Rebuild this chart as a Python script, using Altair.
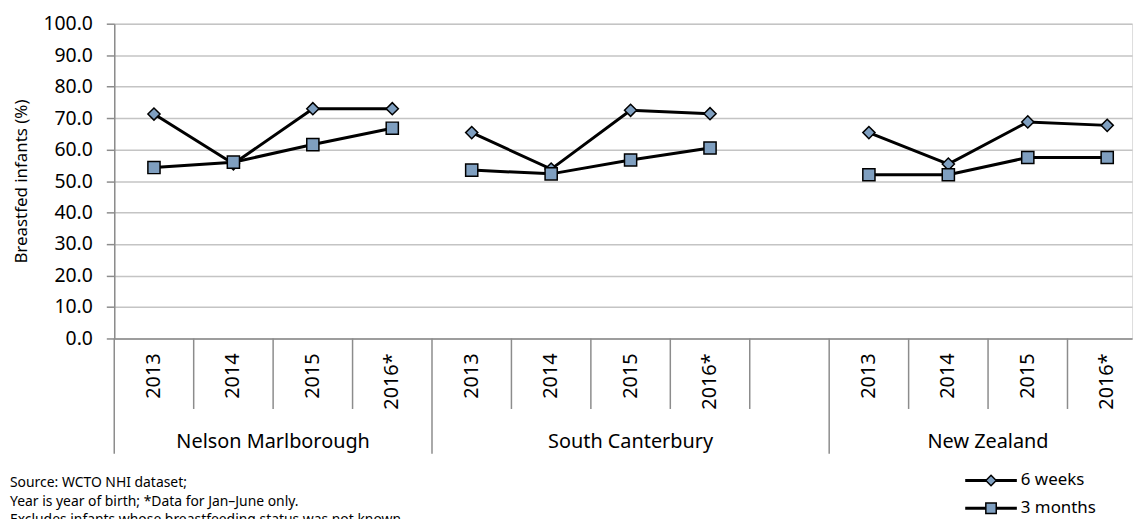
import altair as alt
import pandas as pd

# ---------------- data ----------------
groups = ["Nelson Marlborough", "South Canterbury", "New Zealand"]
group_slots = [4, 5, 4]          # South Canterbury is followed by an empty slot
years = ["2013", "2014", "2015", "2016*"]
series = ["6 weeks", "3 months"]

six_weeks = {
    "Nelson Marlborough": [71.3, 55.5, 73.0, 73.0],
    "South Canterbury": [65.4, 53.8, 72.5, 71.4],
    "New Zealand": [65.4, 55.4, 68.8, 67.7],
}
three_months = {
    "Nelson Marlborough": [54.3, 56.0, 61.6, 66.8],
    "South Canterbury": [53.5, 52.3, 56.7, 60.5],
    "New Zealand": [52.0, 52.0, 57.5, 57.5],
}
y_ticks = [0, 10, 20, 30, 40, 50, 60, 70, 80, 90, 100]
footnotes = [
    "Source: WCTO NHI dataset;",
    "Year is year of birth; *Data for Jan\u2013June only.",
    "Excludes infants whose breastfeeding status was not known.",
]

FONT = "Noto Sans"
FILL = "#7f9fc0"
GRID = "#c4c4c4"
AXIS = "#8c8c8c"

# ---------------- tables ----------------
rows, year_rows, group_rows = [], [], []
group_bounds, year_bounds = [], []
start = 0
for g, n in zip(groups, group_slots):
    group_bounds.append(start)
    for i, yr in enumerate(years):
        c = start + i + 0.5
        year_rows.append({"slot": c, "year": yr})
        rows.append({"group": g, "year": yr, "slot": c, "series": "6 weeks",
                     "value": six_weeks[g][i], "key": g + " 6 weeks"})
    for i, yr in enumerate(years):
        c = start + i + 0.5
        rows.append({"group": g, "year": yr, "slot": c, "series": "3 months",
                     "value": three_months[g][i], "key": g + " 3 months"})
    for k in range(1, n):
        year_bounds.append(start + k)
    group_rows.append({"slot": start + n / 2, "group": g})
    start += n
group_bounds.append(start)

df = pd.DataFrame(rows)
df_years = pd.DataFrame(year_rows)
df_groups = pd.DataFrame(group_rows)
df_gb = pd.DataFrame({"b": group_bounds})
df_yb = pd.DataFrame({"b": year_bounds})
df_note = pd.DataFrame({"t": ["\n".join(footnotes)]})
df_leg = pd.DataFrame({"series": series})

W, H = 1025, 317
xscale = alt.Scale(domain=[0, W / 80], nice=False, zero=False)
yscale = alt.Scale(domain=[0, 100], nice=False, zero=True)

X = alt.X("slot:Q", scale=xscale,
          axis=alt.Axis(domain=True, domainColor=AXIS, domainWidth=1.5, labels=False,
                        ticks=False, grid=False, title=None))
Y = alt.Y("value:Q", scale=yscale,
          axis=alt.Axis(values=y_ticks, tickCount=len(y_ticks) + 2, format=".1f",
                        title="Breastfed infants (%)", labelOverlap=False,
                        grid=True, gridColor=GRID, gridWidth=1.5,
                        domainColor=AXIS, domainWidth=1.5, tickColor=AXIS, tickWidth=1.5,
                        tickSize=8, labelPadding=14, labelFontSize=19.5, labelColor="black",
                        labelFont=FONT, titleFont=FONT, titleFontSize=17,
                        titleFontWeight="normal", titleColor="black", titlePadding=13))

base = alt.Chart(df)

lines = base.mark_line(color="black", strokeWidth=3).encode(
    x=X, y=Y, detail="key:N")

diamonds = base.transform_filter(alt.datum.series == "6 weeks").mark_point(
    shape="diamond", filled=True, fill=FILL, stroke="black", strokeWidth=1.5,
    size=150, opacity=1).encode(x=X, y=Y)

squares = base.transform_filter(alt.datum.series == "3 months").mark_point(
    shape="square", filled=True, fill=FILL, stroke="black", strokeWidth=1.5,
    size=150, opacity=1).encode(x=X, y=Y)

# category axis drawn from the data
year_sep = alt.Chart(df_yb).mark_rule(color=AXIS, strokeWidth=1.5, clip=False).encode(
    x=alt.X("b:Q", scale=xscale), y=alt.value(H), y2=alt.value(H + 71))
group_sep = alt.Chart(df_gb).mark_rule(color=AXIS, strokeWidth=1.5, clip=False).encode(
    x=alt.X("b:Q", scale=xscale), y=alt.value(H), y2=alt.value(H + 116))

year_text = alt.Chart(df_years).mark_text(
    angle=270, align="right", baseline="middle", font=FONT, fontSize=20,
    color="black", clip=False).encode(
    x=alt.X("slot:Q", scale=xscale), y=alt.value(H + 15), text="year:N")

group_text = alt.Chart(df_groups).mark_text(
    align="center", baseline="middle", font=FONT, fontSize=20,
    color="black", clip=False).encode(
    x=alt.X("slot:Q", scale=xscale), y=alt.value(H + 104), text="group:N")

note = alt.Chart(df_note).mark_text(
    align="left", baseline="top", lineBreak="\n", lineHeight=18.5, font=FONT,
    fontSize=14, color="black", clip=False).encode(
    x=alt.value(-105), y=alt.value(H + 139), text="t:N")

# legend
def legend_entry(name, shape, ypx):
    d = alt.Chart(df_leg).transform_filter(alt.datum.series == name)
    ln = d.mark_rule(color="black", strokeWidth=3, clip=False).encode(
        x=alt.value(857), x2=alt.value(909), y=alt.value(ypx))
    pt = d.mark_point(shape=shape, filled=True, fill=FILL, stroke="black",
                      strokeWidth=1.5, size=110, opacity=1, clip=False).encode(
        x=alt.value(883), y=alt.value(ypx))
    tx = d.mark_text(align="left", baseline="middle", font=FONT, fontSize=17,
                     color="black", clip=False).encode(
        x=alt.value(913), y=alt.value(ypx), text="series:N")
    return [ln, pt, tx]

legend_layers = legend_entry("6 weeks", "diamond", 460) + legend_entry("3 months", "square", 488)

chart = alt.layer(
    lines, diamonds, squares,
    year_sep, group_sep, year_text, group_text, note, *legend_layers
).properties(
    width=W, height=H,
    padding={"left": 107, "top": 14, "right": 5, "bottom": 180},
    autosize=alt.AutoSizeParams(type="none"),
).configure_view(stroke=None).configure(font=FONT)

chart.save("out.html", embed_options={"renderer": "svg", "actions": False})
